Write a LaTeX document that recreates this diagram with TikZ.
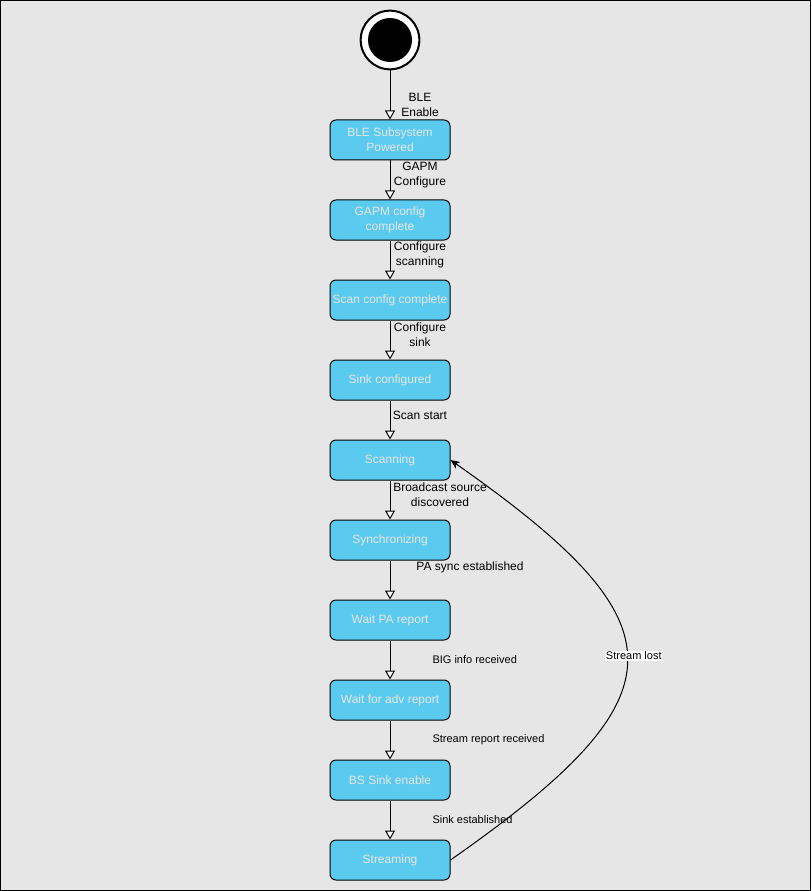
\documentclass[tikz,border=0pt]{standalone}
\usepackage{fontspec}
\setmainfont{Liberation Sans}
\usetikzlibrary{arrows.meta}
\definecolor{bggray}{HTML}{E6E6E6}
\definecolor{boxblue}{HTML}{5BCAEF}
\definecolor{boxtext}{HTML}{E6E6E6}
\begin{document}
\begin{tikzpicture}[x=0.75pt, y=-0.75pt, node distance=60pt, line width=0.75pt]

    % Styles
    \tikzstyle{state} = [rectangle, rounded corners=4.5pt, minimum width=90pt, minimum height=30pt, inner sep=1pt, align=center, draw=black, fill=boxblue, text=boxtext, font=\fontsize{9}{11.25}\selectfont]
    \tikzstyle{trans} = [align=center, inner sep=0pt, font=\fontsize{9}{11.25}\selectfont]
    \tikzstyle{smalltrans} = [anchor=west, inner sep=0pt, font=\fontsize{8.25}{10}\selectfont]
    \tikzstyle{arrow} = [-{Triangle[fill=white, length=6.75pt, width=7.5pt]}]
    \tikzstyle{back} = [-{Stealth[length=7pt, width=6pt, inset=2pt]}]

    % Cadre
    \useasboundingbox (0,0) rectangle (811,891);
    \draw [fill=bggray] (0.5,0.5) rectangle (810.5,890.5);

    % Noeuds
    \node (start) [circle, draw=black, fill=white, line width=1.5pt, minimum size=44pt] at (390,40) {};
    \node (startdot) [circle, fill=black, minimum size=33pt] at (start) {};
    \node (powered) [state, below of=start, yshift=-15pt] {BLE Subsystem\\Powered};
    \node (gapm) [state, below of=powered] {GAPM config\\complete};
    \node (scancfg) [state, below of=gapm] {Scan config complete};
    \node (sink) [state, below of=scancfg] {Sink configured};
    \node (scanning) [state, below of=sink] {Scanning};
    \node (sync) [state, below of=scanning] {Synchronizing};
    \node (pareport) [state, below of=sync] {Wait PA report};
    \node (advreport) [state, below of=pareport] {Wait for adv report};
    \node (bssink) [state, below of=advreport] {BS Sink enable};
    \node (streaming) [state, below of=bssink] {Streaming};

    % Etiquettes
    \node (lblenable) [trans] at (420,105) {BLE\\Enable};
    \node (lblgapm) [trans] at (420,175) {GAPM\\Configure};
    \node (lblscan) [trans] at (420,255) {Configure\\scanning};
    \node (lblsink) [trans] at (420,335) {Configure\\sink};
    \node (lblstart) [trans] at (420,415) {Scan start};
    \node (lblfound) [trans] at (440,495) {Broadcast source\\discovered};
    \node (lblpa) [trans] at (470,567) {PA sync established};
    \node (lblbig) [smalltrans] at (432,660) {BIG info received};
    \node (lblstream) [smalltrans] at (432,740) {Stream report received};
    \node (lblest) [smalltrans] at (432,820) {Sink established};

    % Fleches
    \draw [arrow] (start) -- (powered);
    \draw [arrow] (powered) -- (gapm);
    \draw [arrow] (gapm) -- (scancfg);
    \draw [arrow] (scancfg) -- (sink);
    \draw [arrow] (sink) -- (scanning);
    \draw [arrow] (scanning) -- (sync);
    \draw [arrow] (sync) -- (pareport);
    \draw [arrow] (pareport) -- (advreport);
    \draw [arrow] (advreport) -- (bssink);
    \draw [arrow] (bssink) -- (streaming);
    \draw [back] (streaming.east) .. controls (686,695) and (686,625) .. (scanning.east)
        node [pos=0.5, xshift=5pt, yshift=3pt, fill=white, inner sep=0.5pt, font=\fontsize{8.25}{10}\selectfont] {Stream lost};

\end{tikzpicture}
\end{document}
